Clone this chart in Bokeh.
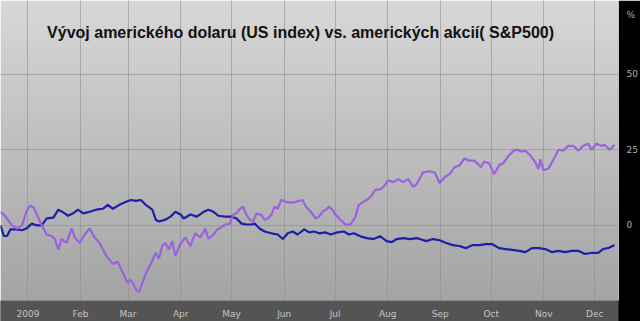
import numpy as np
from bokeh.plotting import figure
from bokeh.models import LinearAxis, FixedTicker, Label
from bokeh.embed import file_html
from bokeh.resources import INLINE

# days since 2009-01-01, percent change
sp_days = [-16.2, -13.2, -9.4, -6.4, -3.5, -0.6, 1.3, 3.3, 5.3, 8.2, 11.1, 14.0, 15.9, 17.9, 19.8,
           22.8, 25.7, 27.6, 30.5, 33.4, 36.4, 39.3, 42.2, 46.1, 50.0, 52.9, 55.8, 58.7, 60.7, 63.6,
           65.5, 67.5, 69.4, 73.3, 75.3, 77.2, 79.1, 81.1, 83.0, 85.0, 86.9, 89.9, 92.8, 95.7, 98.6,
           101.5, 104.5, 106.4, 109.3, 112.2,
           113.2, 116.1, 119.0, 121.0, 122.9, 124.9, 126.8, 128.8, 130.7, 132.7, 134.6, 137.5, 139.5,
           141.4, 143.4, 145.3, 147.2, 149.2, 152.1, 155.0, 158.0, 161.8, 163.8, 166.7, 169.6, 171.6,
           173.5, 175.5, 177.4, 179.3, 181.3, 184.2, 187.1, 190.0, 193.0, 194.9, 197.8, 200.7, 202.7,
           204.6, 207.6, 209.5, 212.4, 215.3, 218.3, 221.2, 224.1, 227.0, 229.0,
           232.8, 236.7, 239.7, 242.6, 245.5, 248.4, 251.3, 254.2, 257.2, 260.1, 263.0, 264.9, 266.9,
           268.8, 271.8, 274.7, 277.6, 280.5, 283.4, 286.3, 288.3, 290.8, 293.1, 296.1, 299.0, 300.9,
           301.9, 303.8, 306.8, 309.7, 312.6, 315.5, 318.4, 321.4, 324.3, 327.2, 330.1, 332.1, 335.0,
           337.9, 339.8, 342.8, 345.7]
sp_vals = [4.5, 3.0, 0.0, -1.0, 0.0, 5.0, 6.5, 6.0, 3.5, 0.0, -3.0, -3.5, -4.5, -8.0, -4.5,
           -5.8, -1.0, -4.0, -5.8, -3.0, -1.0, -4.0, -5.8, -10.0, -12.7, -12.0, -15.5, -19.0, -18.0, -21.0,
           -22.0, -18.8, -16.0, -11.7, -9.0, -11.0, -6.8, -5.8, -8.0, -5.2, -10.0, -6.0, -4.0, -6.8, -2.6,
           -4.0, -1.0, -4.5, -3.0, -1.0,
           -1.0, 0.3, 0.6, 3.5, 4.0, 5.5, 6.2, 3.5, 1.9, 1.3, 3.9, 3.5, 1.9,
           2.3, 3.5, 6.2, 5.5, 8.4, 7.8, 7.5, 7.8, 8.4, 6.2, 4.5, 2.3, 2.9,
           4.5, 5.2, 6.2, 5.2, 3.5, 1.9, 0.3, 0.3, 2.9, 6.8, 7.8, 8.8, 10.0,
           11.7, 12.0, 12.7, 14.9, 14.3, 15.3, 14.3, 15.3, 12.7, 13.6,
           17.5, 17.9, 17.5, 14.0, 15.9, 16.9, 19.2, 19.8, 22.1, 21.4, 21.4, 20.5, 19.2,
           21.1, 20.5, 16.9, 19.8, 20.8, 23.1, 24.7, 25.0, 24.4, 24.7, 23.1, 20.8, 18.6,
           21.8, 18.2, 18.8, 21.8, 25.0, 24.7, 26.3, 26.3, 24.7, 26.3, 27.0, 25.0, 27.0,
           26.3, 26.6, 25.0, 26.6]

usd_days = [-16.2, -14.2, -12.3, -10.3, -7.4, -3.5, -0.6, 2.3, 5.2, 8.1, 11.1, 15.0, 17.9, 20.8,
            23.7, 26.6, 29.5, 32.5, 36.4, 40.2, 44.1, 47.1, 50.0, 53.9, 57.8, 60.7, 63.6, 66.5,
            69.4, 73.3, 75.3, 77.2, 81.1, 84.0, 86.9, 89.9, 91.8, 95.7, 99.6, 103.5, 106.4, 109.3,
            112.2,
            116.1, 120.0, 122.9, 125.9, 128.8, 131.7, 133.6, 136.5, 139.5, 143.4, 147.2, 150.2,
            153.1, 156.0, 158.9, 162.8, 165.7, 168.6, 171.6, 175.5, 178.4, 182.3, 186.2, 189.1,
            192.0, 195.9, 199.8, 203.7, 207.6, 211.4, 214.4, 217.3, 221.2, 225.1, 229.0,
            230.9, 234.8, 238.7, 242.6, 246.5, 250.4, 254.2, 258.1, 262.0, 265.9, 269.8, 273.7,
            277.6, 281.5, 285.4, 289.3, 293.2, 297.0, 300.9, 304.8, 308.7, 312.6, 316.5, 320.4,
            324.3, 328.2, 332.1, 336.0, 338.9, 341.8, 345.7]
usd_vals = [0.0, -3.5, -3.5, -1.3, -1.3, -1.6, -0.9, 0.6, 0.0, 0.0, 2.3, 2.6, 5.2, 4.3,
            3.2, 4.0, 5.2, 4.0, 4.5, 5.2, 5.5, 6.8, 5.5, 6.8, 7.8, 8.4, 8.1, 8.4,
            6.8, 5.2, 1.9, 1.3, 1.9, 2.9, 4.5, 3.6, 2.3, 3.6, 2.9, 4.5, 5.2, 4.5,
            3.2,
            2.9, 2.9, 2.3, 0.6, 0.3, 0.3, 0.6, -1.0, -2.0, -2.6, -3.0, -4.5,
            -2.6, -2.0, -3.0, -1.3, -2.3, -2.0, -2.6, -2.3, -3.0, -2.3, -2.0, -3.0,
            -2.6, -3.6, -4.2, -4.5, -3.6, -5.2, -5.5, -4.5, -4.2, -4.5, -4.2,
            -4.5, -5.2, -4.5, -4.9, -5.8, -6.5, -6.8, -7.5, -6.5, -6.5, -6.2, -6.2,
            -7.5, -7.8, -8.1, -8.4, -8.8, -7.5, -7.5, -7.8, -8.8, -8.4, -8.8, -8.4,
            -8.4, -9.4, -9.1, -9.1, -7.8, -7.5, -6.5]

month_starts = [0, 31, 59, 90, 120, 151, 181, 212, 243, 273, 304, 334]
month_labels = ["2009", "Feb", "Mar", "Apr", "May", "Jun", "Jul", "Aug", "Sep", "Oct", "Nov", "Dec"]
y_ticks = [0, 25, 50]
unit_label = "%"
title_text = "Vývoj amerického dolaru (US index) vs. amerických akcií( S&P500)"

X0, X1 = -16.17, 348.0
Y0, Y1 = -24.8, 74.3
UNIT_POS = 69.5

p = figure(width=640, height=321, output_backend="svg", toolbar_location=None,
           x_range=(X0, X1), y_range=(Y0, Y1), y_axis_location=None,
           min_border_left=0, min_border_top=0, min_border_right=16, min_border_bottom=15)
p.outline_line_color = None
p.border_fill_color = "black"

# background gradient
n = 120
img = np.zeros((n, 1), dtype=np.uint32)
v = img.view(dtype=np.uint8).reshape((n, 1, 4))
top_c, bot_c = np.array([216, 216, 216]), np.array([164, 164, 164])
for i in range(n):
    t = i / (n - 1)  # 0 bottom -> 1 top
    c = bot_c + (top_c - bot_c) * t
    v[i, 0, 0:3] = c.astype(np.uint8)
    v[i, 0, 3] = 255
p.image_rgba(image=[img], x=X0, y=Y0, dw=X1 - X0, dh=Y1 - Y0, level="image")

# lines
p.line(usd_days, usd_vals, line_color="#1e1eaa", line_width=2.2)
p.line(sp_days, sp_vals, line_color="#9a62e0", line_width=2.2)

# x axis
xa = p.xaxis[0]
xa.ticker = FixedTicker(ticks=month_starts)
xa.major_label_overrides = {d: l for d, l in zip(month_starts, month_labels)}
xa.major_tick_line_color = None
xa.minor_tick_line_color = None
xa.axis_line_color = None
xa.major_label_text_color = "#c4c4c4"
xa.major_label_text_font = "DejaVu Sans"
xa.major_label_text_font_size = "9px"
xa.major_label_standoff = 2
try:
    xa.background_fill_color = "#545454"
except Exception:
    pass

# right axis (with the unit shown at the top)
ya = LinearAxis(ticker=FixedTicker(ticks=y_ticks + [UNIT_POS]))
ya.major_label_overrides = {UNIT_POS: unit_label}
ya.major_tick_line_color = None
ya.minor_tick_line_color = None
ya.axis_line_color = None
ya.major_label_text_color = "#b0b0b0"
ya.major_label_text_font = "DejaVu Sans"
ya.major_label_text_font_size = "9px"
ya.major_label_standoff = 2
p.add_layout(ya, "right")

p.xgrid.ticker = FixedTicker(ticks=month_starts)
p.xgrid.grid_line_color = "#8e8e8e"
p.xgrid.grid_line_alpha = 0.6
p.ygrid.ticker = FixedTicker(ticks=y_ticks)
p.ygrid.grid_line_color = "#8e8e8e"
p.ygrid.grid_line_alpha = 0.6

p.add_layout(Label(x=11.3, y=63.6, text=title_text, text_font="Liberation Sans",
                   text_font_style="bold", text_font_size="16px", text_color="#111111",
                   text_baseline="middle"))

open("out.html", "w").write(file_html(p, INLINE))
